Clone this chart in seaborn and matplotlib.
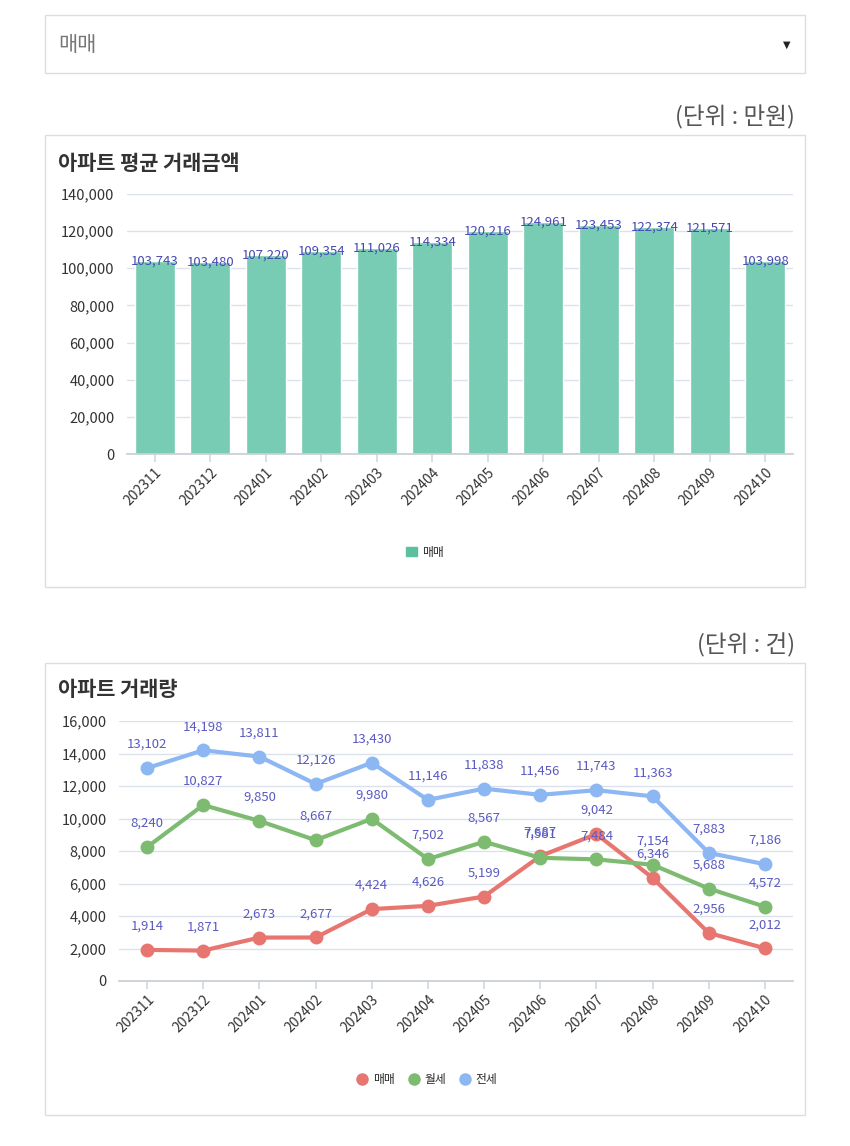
import numpy as np
import pandas as pd
import matplotlib
matplotlib.use("Agg")
import matplotlib.pyplot as plt
from matplotlib.patches import Rectangle
from matplotlib.lines import Line2D
from matplotlib.ticker import FuncFormatter
import seaborn as sns

sns.set_theme(style="white")
plt.rcParams['font.family'] = ['Noto Sans CJK KR', 'DejaVu Sans']

# -----------------------------
# Data
# -----------------------------
months = ["202311", "202312", "202401", "202402", "202403", "202404",
          "202405", "202406", "202407", "202408", "202409", "202410"]

avg_price = [103743, 103480, 107220, 109354, 111026, 114334,
             120216, 124961, 123453, 122374, 121571, 103998]

sale_cnt = [1914, 1871, 2673, 2677, 4424, 4626, 5199, 7687, 9042, 6346, 2956, 2012]
monthly_rent_cnt = [8240, 10827, 9850, 8667, 9980, 7502, 8567, 7581, 7484, 7154, 5688, 4572]
jeonse_cnt = [13102, 14198, 13811, 12126, 13430, 11146, 11838, 11456, 11743, 11363, 7883, 7186]

series_names = ["매매", "월세", "전세"]
series_colors = ["#E87670", "#7DBB70", "#8CB7F2"]

BAR_COLOR = "#77CCB3"
LABEL_COLOR = "#4747B3"
GRID = "#DCE2EC"
W, H = 850, 1146

fig = plt.figure(figsize=(W / 100, H / 100), dpi=100)


def box(x0, y0, x1, y1, ec):
    fig.patches.append(Rectangle((x0 / W, 1 - y1 / H), (x1 - x0) / W, (y1 - y0) / H,
                                 transform=fig.transFigure, fill=False, ec=ec, lw=1))


def axes_px(x0, y0, x1, y1):
    return fig.add_axes([x0 / W, 1 - y1 / H, (x1 - x0) / W, (y1 - y0) / H])


def style_axis(ax, ymax, step):
    ax.set_ylim(0, ymax)
    ax.set_yticks(np.arange(0, ymax + 1, step))
    ax.yaxis.set_major_formatter(FuncFormatter(lambda v, p: f"{int(v):,}"))
    ax.grid(axis="y", color=GRID, lw=1)
    ax.set_axisbelow(True)
    for s in ["top", "right", "left"]:
        ax.spines[s].set_visible(False)
    ax.spines["bottom"].set_color("#C9CED6")
    ax.tick_params(axis="y", length=0, pad=9, labelsize=10.5, labelcolor="#333333")
    ax.tick_params(axis="x", length=6, color="#D5D9E0", pad=2, labelsize=10,
                   labelcolor="#333333", bottom=True)
    plt.setp(ax.get_xticklabels(), rotation=45, ha="right", rotation_mode="anchor")
    ax.set_xlabel("")
    ax.set_ylabel("")
    ax.set_xlim(-0.5, len(months) - 0.5)


# -----------------------------
# Dropdown + unit labels
# -----------------------------
box(45, 15, 805, 73, "#DDDDDD")
fig.text(58 / W, 1 - 45 / H, "매매", fontsize=15, color="#777777", va="center",
         fontweight="light")
fig.text(787 / W, 1 - 45 / H, "▼", fontsize=7, color="#222222", va="center", ha="center",
         family=["DejaVu Sans"])
fig.text(795 / W, 1 - 117 / H, "(단위 : 만원)", fontsize=17, color="#555555",
         va="center", ha="right", fontweight="light")
fig.text(795 / W, 1 - 645 / H, "(단위 : 건)", fontsize=17, color="#555555",
         va="center", ha="right", fontweight="light")

# -----------------------------
# Panel 1: average price
# -----------------------------
box(45, 135, 805, 587, "#D6DEE9")
fig.text(58 / W, 1 - 163 / H, "아파트 평균 거래금액", fontsize=15, fontweight="bold",
         color="#333333", va="center")

ax1 = axes_px(127, 194, 793, 454)
sns.barplot(x=months, y=avg_price, color=BAR_COLOR, width=0.72, saturation=1, ax=ax1)
for i, v in enumerate(avg_price):
    ax1.text(i, v, f"{v:,}", ha="center", va="center", fontsize=9.5, color=LABEL_COLOR)
style_axis(ax1, 140000, 20000)
ax1.legend(handles=[Rectangle((0, 0), 1, 1, color="#5CC09F")], labels=["매매"],
           loc="center", bbox_to_anchor=(425 / W, 1 - 552 / H),
           bbox_transform=fig.transFigure, frameon=False, fontsize=8.5,
           handlelength=0.9, handleheight=0.9, handletextpad=0.4)

# -----------------------------
# Panel 2: transaction counts
# -----------------------------
box(45, 663, 805, 1115, "#D6DEE9")
fig.text(58 / W, 1 - 690 / H, "아파트 거래량", fontsize=15, fontweight="bold",
         color="#333333", va="center")

df = pd.DataFrame({
    "month": months * 3,
    "kind": [series_names[0]] * 12 + [series_names[1]] * 12 + [series_names[2]] * 12,
    "count": sale_cnt + monthly_rent_cnt + jeonse_cnt,
})

ax2 = axes_px(119, 721, 793, 981)
sns.lineplot(data=df, x="month", y="count", hue="kind", hue_order=series_names,
             palette=series_colors, marker="o", markersize=10, markeredgewidth=0,
             linewidth=3, legend=False, ax=ax2)
for vals in [sale_cnt, monthly_rent_cnt, jeonse_cnt]:
    for i, v in enumerate(vals):
        ax2.annotate(f"{v:,}", (i, v), xytext=(0, 17), textcoords="offset points",
                     ha="center", va="center", fontsize=9.5, color="#5A5AC2")
style_axis(ax2, 16000, 2000)

handles = [Line2D([], [], ls="", marker="o", markersize=8, color=c) for c in series_colors]
ax2.legend(handles=handles, labels=series_names, loc="center",
           bbox_to_anchor=(425 / W, 1 - 1080 / H), bbox_transform=fig.transFigure,
           frameon=False, fontsize=8.5, ncol=3, handletextpad=0.1, columnspacing=0.8,
           handlelength=1.6)

fig.savefig("out.png", dpi=100, facecolor="white")
